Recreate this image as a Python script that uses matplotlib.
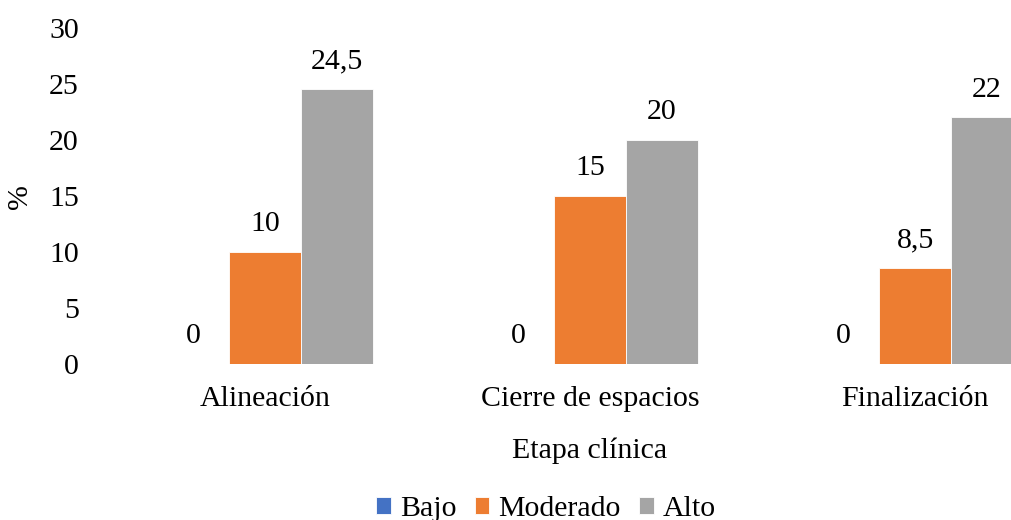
import matplotlib
matplotlib.use("Agg")
import matplotlib.pyplot as plt
import numpy as np

plt.rcParams['font.family'] = ['Liberation Serif', 'DejaVu Serif']

categories = ["Alineación", "Cierre de espacios", "Finalización"]
series_names = ["Bajo", "Moderado", "Alto"]
bajo = [0, 0, 0]
moderado = [10, 15, 8.5]
alto = [24.5, 20, 22]
colors = ["#4472C4", "#ED7D31", "#A5A5A5"]
y_ticks = [0, 5, 10, 15, 20, 25, 30]

FS = 21.5

fig = plt.figure(figsize=(10.11, 5.2), dpi=100)
W, H = 1011, 520
left, right = 102.5, 1077.5
bottom, top = 363.5, 27.8
ax = fig.add_axes([left / W, 1 - bottom / H, (right - left) / W, (bottom - top) / H])

x = np.arange(len(categories))
width = 0.2215
values = [bajo, moderado, alto]
for i, (name, vals, col) in enumerate(zip(series_names, values, colors)):
    pos = x + (i - 1) * width
    ax.bar(pos, vals, width, color=col, label=name, edgecolor="white", linewidth=0.6)
    for xp, v in zip(pos, vals):
        txt = f"{v:g}".replace(".", ",")
        ax.text(xp, v + 1.3, txt, ha="center", va="bottom", fontsize=FS, color="#000000")

ax.set_xlim(-0.5, len(categories) - 0.5)
ax.set_ylim(0, 30)
ax.set_yticks(y_ticks)
ax.set_xticks(x)
ax.set_xticklabels(categories)
ax.tick_params(axis="both", length=0, labelsize=FS, colors="#000000")
ax.tick_params(axis="y", pad=17)
ax.tick_params(axis="x", pad=16)
for s in ax.spines.values():
    s.set_visible(False)

ax.set_ylabel("%", fontsize=FS)
ax.yaxis.set_label_coords((20 - left) / (right - left), (bottom - 197) / (bottom - top))
ax.yaxis.label.set_va("center")
ax.set_xlabel("Etapa clínica", fontsize=FS)
ax.xaxis.set_label_coords((590 - left) / (right - left), -(451 - bottom) / (bottom - top))
ax.xaxis.label.set_va("center")

fig.legend(loc="lower center", bbox_to_anchor=(546 / W, -0.055), ncol=3, frameon=False,
           fontsize=FS, handlelength=0.5, handleheight=0.5, handletextpad=0.3,
           columnspacing=0.6)

fig.savefig("out.png", dpi=100)
